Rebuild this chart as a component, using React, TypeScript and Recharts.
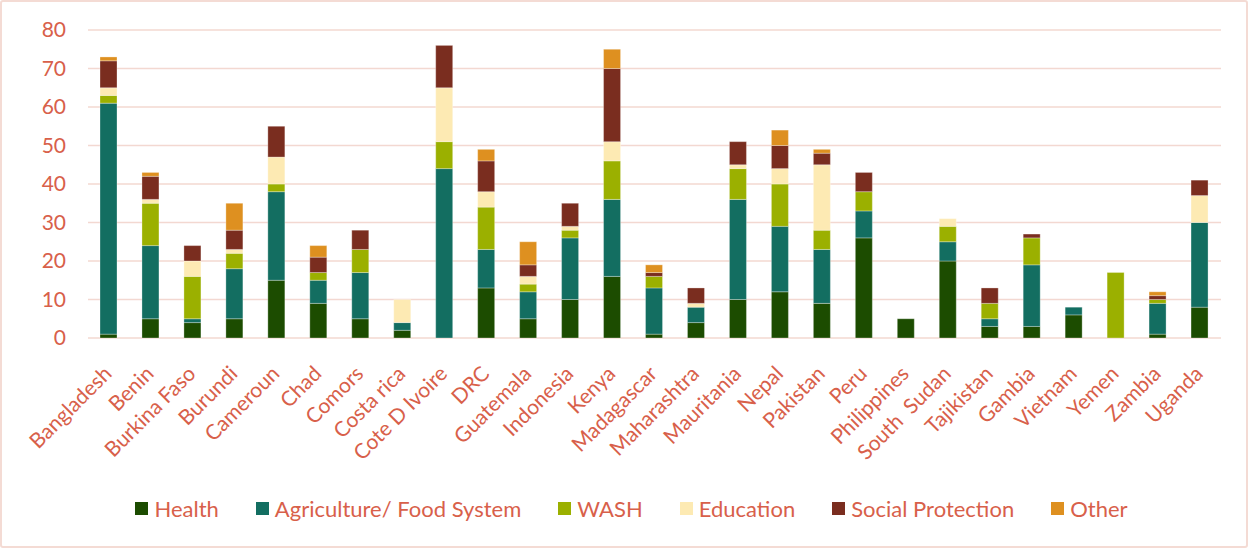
import { Bar, BarChart, CartesianGrid, Legend, XAxis, YAxis } from "recharts";

const countries = [
  "Bangladesh", "Benin", "Burkina Faso", "Burundi", "Cameroun", "Chad", "Comors",
  "Costa rica", "Cote D Ivoire", "DRC", "Guatemala", "Indonesia", "Kenya", "Madagascar",
  "Maharashtra", "Mauritania", "Nepal", "Pakistan", "Peru", "Philippines", "South  Sudan",
  "Tajikistan", "Gambia", "Vietnam", "Yemen", "Zambia", "Uganda",
];

const health = [1, 5, 4, 5, 15, 9, 5, 2, 0, 13, 5, 10, 16, 1, 4, 10, 12, 9, 26, 5, 20, 3, 3, 6, 0, 1, 8];
const agriculture = [60, 19, 1, 13, 23, 6, 12, 2, 44, 10, 7, 16, 20, 12, 4, 26, 17, 14, 7, 0, 5, 2, 16, 2, 0, 8, 22];
const wash = [2, 11, 11, 4, 2, 2, 6, 0, 7, 11, 2, 2, 10, 3, 0, 8, 11, 5, 5, 0, 4, 4, 7, 0, 17, 1, 0];
const education = [2, 1, 4, 1, 7, 0, 0, 6, 14, 4, 2, 1, 5, 0, 1, 1, 4, 17, 0, 0, 2, 0, 0, 0, 0, 0, 7];
const socialProtection = [7, 6, 4, 5, 8, 4, 5, 0, 11, 8, 3, 6, 19, 1, 4, 6, 6, 3, 5, 0, 0, 4, 1, 0, 0, 1, 4];
const other = [1, 1, 0, 7, 0, 3, 0, 0, 0, 3, 6, 0, 5, 2, 0, 0, 4, 1, 0, 0, 0, 0, 0, 0, 0, 1, 0];

const yTicks = [0, 10, 20, 30, 40, 50, 60, 70, 80];

const series = [
  { key: "health", name: "Health", color: "#1c4c00" },
  { key: "agriculture", name: "Agriculture/ Food System", color: "#136e61" },
  { key: "wash", name: "WASH", color: "#9bb000" },
  { key: "education", name: "Education", color: "#fdeab3" },
  { key: "social", name: "Social Protection", color: "#7a2d1f" },
  { key: "other", name: "Other", color: "#de9020" },
];

const data = countries.map((c, i) => ({
  country: c,
  health: health[i],
  agriculture: agriculture[i],
  wash: wash[i],
  education: education[i],
  social: socialProtection[i],
  other: other[i],
}));

const TEXT = "#d8604a";
const FONT = "Lato, 'Open Sans', sans-serif";

function LegendRow() {
  return (
    <div
      style={{
        display: "flex",
        justifyContent: "center",
        gap: 37,
        paddingLeft: 40,
        paddingTop: 25,
        fontFamily: FONT,
        fontSize: 22,
        color: TEXT,
      }}
    >
      {series.map((s) => (
        <span key={s.key} style={{ display: "inline-flex", alignItems: "center", gap: 6 }}>
          <span style={{ width: 13, height: 13, background: s.color, display: "inline-block" }} />
          {s.name}
        </span>
      ))}
    </div>
  );
}

function XTick({ x, y, payload }: any) {
  return (
    <text
      x={0}
      y={0}
      transform={`translate(${x + 4},${y + 29}) rotate(-45)`}
      textAnchor="end"
      fill={TEXT}
      fontSize={21}
      fontFamily={FONT}
      style={{ whiteSpace: "pre" }}
    >
      {payload.value}
    </text>
  );
}

export default function App() {
  return (
    <div
      style={{
        position: "absolute",
        left: 0,
        top: 0,
        width: 1244,
        height: 544,
        border: "2px solid #f4dbd4",
        borderRadius: 3,
        background: "#fff",
      }}
    >
      <BarChart
        width={1244}
        height={544}
        data={data}
        margin={{ top: 28, right: 25, bottom: 26, left: 0 }}
        barSize={17}
      >
        <CartesianGrid vertical={false} stroke="#f3d8d1" strokeWidth={1.5} />
        <XAxis
          dataKey="country"
          interval={0}
          tick={<XTick />}
          tickLine={false}
          axisLine={false}
          height={132}
        />
        <YAxis
          domain={[0, 80]}
          ticks={yTicks}
          width={86}
          tickLine={false}
          axisLine={false}
          tickSize={0}
          tickMargin={22}
          tick={{ fill: TEXT, fontSize: 21, fontFamily: FONT }}
        />
        <Legend verticalAlign="bottom" height={50} content={() => <LegendRow />} />
        {series.map((s) => (
          <Bar
            key={s.key}
            dataKey={s.key}
            name={s.name}
            stackId="a"
            fill={s.color}
            stroke="#ffffff"
            strokeOpacity={0.5}
            strokeWidth={0.6}
            isAnimationActive={false}
          />
        ))}
      </BarChart>
    </div>
  );
}
